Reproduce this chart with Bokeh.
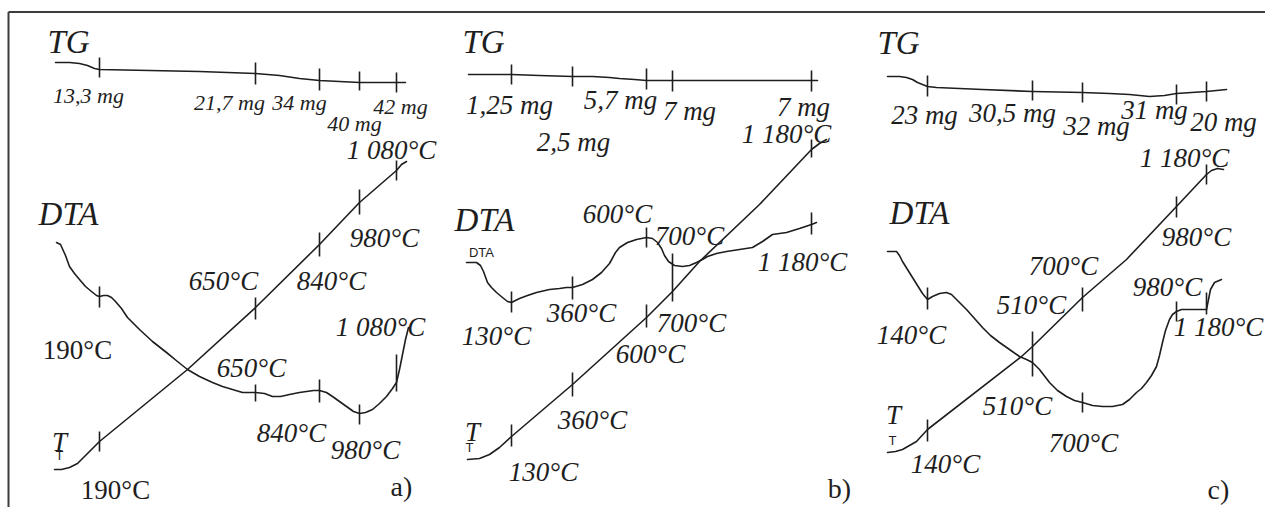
from bokeh.plotting import figure
from bokeh.models import Range1d
from bokeh.core.properties import value
from bokeh.embed import file_html
from bokeh.resources import INLINE

# ---------------- panel a) ----------------
TG_A_X = [56, 70, 80, 88, 95, 100, 150, 200, 256, 280, 300, 320, 340, 360, 380, 406]
TG_A_Y = [63, 63, 64, 66, 69, 70, 71, 72, 74, 76, 79, 81, 82, 83, 83, 83]
TG_A_TICK_X = [100, 256, 320, 360, 397]
TG_A_TICK_Y0 = [58, 63, 69, 72, 73]
TG_A_TICK_Y1 = [78, 85, 91, 91, 93]
TG_A_TXT = ["13,3 mg", "21,7 mg", "34 mg", "40 mg", "42 mg"]
TG_A_TX = [89, 230, 300, 355, 401]
TG_A_TY = [96, 103, 103, 124, 107]

DTA_A_X = [57, 61, 66, 70, 75, 80, 86, 92, 97, 100, 104, 108, 112, 116, 122, 128, 140, 153, 167,
           178, 188, 200, 213, 223, 233, 243, 256, 265, 273, 281, 290, 300, 307, 314, 320, 327,
           333, 340, 347, 354, 360, 366, 373, 380, 387, 393, 397, 400, 403, 406, 409]
DTA_A_Y = [243, 245, 256, 267, 274, 280, 287, 292, 296, 297, 296, 296, 298, 302, 309, 318, 330, 342, 353,
           362, 370, 377, 383, 387, 390, 393, 393, 394, 397, 397, 395, 393, 392, 391, 391, 393,
           397, 402, 407, 412, 414, 413, 410, 404, 397, 389, 383, 370, 355, 340, 328]
DTA_A_TICK_X = [100, 256, 320, 360, 397]
DTA_A_TICK_Y0 = [287, 385, 380, 405, 355]
DTA_A_TICK_Y1 = [308, 402, 403, 425, 392]

T_A_X = [55, 62, 70, 78, 86, 100, 188, 256, 320, 360, 397, 402, 407]
T_A_Y = [470, 470, 468, 464, 456, 442, 370, 308, 245, 203, 171, 165, 162]
T_A_TICK_X = [100, 256, 320, 360, 397]
T_A_TICK_Y0 = [432, 298, 233, 190, 161]
T_A_TICK_Y1 = [452, 320, 257, 215, 181]

# ---------------- panel b) ----------------
TG_B_X = [469, 490, 512, 540, 573, 593, 610, 620, 635, 647, 673, 812, 818]
TG_B_Y = [75, 75, 75, 76, 77, 77, 78, 79, 80, 81, 81, 81, 81]
TG_B_TICK_X = [512, 573, 647, 673, 812]
TG_B_TICK_Y0 = [65, 67, 69, 71, 71]
TG_B_TICK_Y1 = [85, 87, 90, 92, 92]
TG_B_TXT = ["1,25 mg", "5,7 mg", "7 mg", "2,5 mg", "7 mg"]
TG_B_TX = [510, 621, 690, 574, 804]
TG_B_TY = [105, 100, 111, 142, 107]

DTA_B_X = [467, 477, 481, 484, 488, 492, 497, 503, 508, 512, 516, 520, 528, 537, 550, 560, 567, 573,
           583, 593, 602, 610, 616, 620, 628, 637, 647, 653, 658, 662, 665, 669, 675, 683, 690,
           697, 703, 708, 717, 727, 740, 753, 763, 773, 780, 787, 800, 812, 817]
DTA_B_Y = [263, 263, 266, 272, 283, 288, 293, 298, 302, 303, 301, 299, 296, 293, 290, 289, 288, 288,
           285, 280, 273, 264, 253, 248, 243, 240, 238, 239, 243, 249, 256, 262, 266, 267, 266,
           263, 260, 257, 254, 252, 250, 248, 242, 235, 234, 233, 229, 225, 223]
DTA_B_TICK_X = [512, 573, 647, 673, 812]
DTA_B_TICK_Y0 = [292, 277, 228, 254, 213]
DTA_B_TICK_Y1 = [313, 300, 248, 302, 235]

T_B_X = [468, 480, 490, 500, 512, 573, 647, 673, 700, 760, 812, 820, 827]
T_B_Y = [460, 459, 455, 448, 437, 385, 318, 292, 262, 205, 150, 144, 140]
T_B_TICK_X = [512, 573, 647, 812]
T_B_TICK_Y0 = [425, 373, 305, 140]
T_B_TICK_Y1 = [447, 397, 328, 158]

# ---------------- panel c) ----------------
TG_C_X = [888, 900, 907, 913, 918, 923, 928, 937, 960, 983, 1033, 1083, 1110, 1130, 1150, 1165, 1177, 1207, 1227]
TG_C_Y = [77, 77, 78, 80, 83, 85, 87, 88, 89, 90, 92, 93, 94, 95, 97, 96, 94, 92, 90]
TG_C_TICK_X = [928, 1033, 1083, 1177, 1207]
TG_C_TICK_Y0 = [76, 81, 83, 85, 82]
TG_C_TICK_Y1 = [97, 101, 103, 105, 102]
TG_C_TXT = ["23 mg", "30,5 mg", "32 mg", "31 mg", "20 mg"]
TG_C_TX = [925, 1013, 1097, 1155, 1224]
TG_C_TY = [115, 113, 126, 110, 122]

DTA_C_X = [888, 897, 900, 903, 908, 913, 918, 923, 928, 933, 940, 947, 952, 957, 962, 967, 975, 983,
           991, 1000, 1010, 1020, 1027, 1033, 1040, 1050, 1058, 1067, 1075, 1083, 1093, 1103, 1113,
           1123, 1130, 1137, 1142, 1147, 1152, 1157, 1160, 1163, 1166, 1170, 1173, 1177, 1182, 1187,
           1200, 1207, 1209, 1211, 1215, 1222]
DTA_C_Y = [252, 252, 256, 262, 270, 278, 286, 294, 300, 297, 294, 293, 295, 300, 305, 310, 319, 328,
           336, 343, 350, 357, 360, 363, 370, 383, 391, 397, 401, 403, 406, 407, 407,
           405, 400, 393, 389, 383, 376, 367, 356, 343, 331, 320, 315, 312, 310, 310,
           310, 310, 300, 290, 283, 280]
DTA_C_TICK_X = [928, 1033, 1083, 1177, 1207]
DTA_C_TICK_Y0 = [288, 332, 393, 302, 293]
DTA_C_TICK_Y1 = [310, 377, 413, 322, 315]

T_C_X = [888, 896, 903, 910, 917, 928, 1022, 1033, 1083, 1127, 1177, 1207, 1212, 1218, 1224]
T_C_Y = [453, 452, 450, 446, 442, 430, 357, 347, 298, 260, 207, 175, 171, 169, 170]
T_C_TICK_X = [928, 1083, 1177, 1207]
T_C_TICK_Y0 = [420, 288, 197, 165]
T_C_TICK_Y1 = [442, 312, 218, 185]

# ---------------- temperature labels ----------------
TEMP_TXT = ["1 080°C", "980°C", "840°C", "650°C", "650°C", "1 080°C", "840°C", "980°C",
            "1 180°C", "600°C", "700°C", "1 180°C", "130°C", "360°C", "700°C", "600°C", "360°C", "130°C",
            "1 180°C", "980°C", "700°C", "510°C", "140°C", "980°C", "1 180°C", "510°C", "700°C", "140°C"]
TEMP_X = [392, 385, 332, 224, 252, 381, 292, 366,
          787, 618, 690, 803, 497, 582, 692, 651, 593, 544,
          1185, 1197, 1064, 1032, 912, 1168, 1219, 1018, 1084, 946]
TEMP_Y = [150, 238, 281, 281, 368, 327, 433, 450,
          134, 214, 236, 262, 336, 313, 323, 354, 420, 472,
          158, 237, 266, 305, 335, 287, 327, 406, 443, 464]
UPRIGHT_TXT = ["190°C", "190°C"]
UPRIGHT_X = [78, 116]
UPRIGHT_Y = [350, 490]

TITLE_TXT = ["TG", "DTA", "T", "TG", "DTA", "T", "TG", "DTA", "T"]
TITLE_X = [69, 69, 60, 484, 485, 473, 899, 920, 894]
TITLE_Y = [42, 214, 442, 42, 220, 432, 43, 213, 415]
TITLE_SIZE = ["33px", "33px", "27px", "33px", "33px", "27px", "33px", "33px", "27px"]

SMALL_TXT = ["T", "DTA", "T", "T"]
SMALL_X = [60, 482, 470, 893]
SMALL_Y = [456, 253, 448, 441]

PANEL_TXT = ["a)", "b)", "c)"]
PANEL_X = [402, 840, 1219]
PANEL_Y = [487, 489, 490]

INK = "#1e1e1e"
SERIF = value("Liberation Serif")

p = figure(width=1265, height=507, x_range=Range1d(1, 1266), y_range=Range1d(508, 1),
           output_backend="svg", toolbar_location=None, min_border=0,
           x_axis_location=None, y_axis_location=None)
p.grid.visible = False
p.outline_line_color = None
p.background_fill_color = "white"
p.border_fill_color = "white"

# frame (top and left border)
p.line(x=[9, 1266], y=[12.5, 12.5], line_color="#3c3c3c", line_width=2)
p.line(x=[9, 9], y=[12.5, 508], line_color="#3c3c3c", line_width=2)

curves = [(TG_A_X, TG_A_Y), (DTA_A_X, DTA_A_Y), (T_A_X, T_A_Y),
          (TG_B_X, TG_B_Y), (DTA_B_X, DTA_B_Y), (T_B_X, T_B_Y),
          (TG_C_X, TG_C_Y), (DTA_C_X, DTA_C_Y), (T_C_X, T_C_Y)]
for xs, ys in curves:
    p.line(x=xs, y=ys, line_color=INK, line_width=1.6, line_join="round", line_cap="round")

ticks = [(TG_A_TICK_X, TG_A_TICK_Y0, TG_A_TICK_Y1), (DTA_A_TICK_X, DTA_A_TICK_Y0, DTA_A_TICK_Y1),
         (T_A_TICK_X, T_A_TICK_Y0, T_A_TICK_Y1),
         (TG_B_TICK_X, TG_B_TICK_Y0, TG_B_TICK_Y1), (DTA_B_TICK_X, DTA_B_TICK_Y0, DTA_B_TICK_Y1),
         (T_B_TICK_X, T_B_TICK_Y0, T_B_TICK_Y1),
         (TG_C_TICK_X, TG_C_TICK_Y0, TG_C_TICK_Y1), (DTA_C_TICK_X, DTA_C_TICK_Y0, DTA_C_TICK_Y1),
         (T_C_TICK_X, T_C_TICK_Y0, T_C_TICK_Y1)]
for tx, y0, y1 in ticks:
    p.segment(x0=tx, y0=y0, x1=tx, y1=y1, line_color=INK, line_width=1.6)

# mg labels
p.text(x=TG_A_TX, y=TG_A_TY, text=TG_A_TXT, text_font=SERIF, text_font_style="italic",
       text_font_size="22px", text_align="center", text_baseline="middle", text_color=INK)
p.text(x=TG_B_TX + TG_C_TX, y=TG_B_TY + TG_C_TY, text=TG_B_TXT + TG_C_TXT, text_font=SERIF,
       text_font_style="italic", text_font_size="27px", text_align="center",
       text_baseline="middle", text_color=INK)

# temperature labels
p.text(x=TEMP_X, y=TEMP_Y, text=TEMP_TXT, text_font=SERIF, text_font_style="italic",
       text_font_size="27px", text_align="center", text_baseline="middle", text_color=INK)
p.text(x=UPRIGHT_X, y=UPRIGHT_Y, text=UPRIGHT_TXT, text_font=SERIF, text_font_style="normal",
       text_font_size="27px", text_align="center", text_baseline="middle", text_color=INK)

# curve names
p.text(x=TITLE_X, y=TITLE_Y, text=TITLE_TXT, text_font=SERIF, text_font_style="italic",
       text_font_size=TITLE_SIZE, text_align="center", text_baseline="middle", text_color=INK)
p.text(x=SMALL_X, y=SMALL_Y, text=SMALL_TXT, text_font=value("Liberation Sans"),
       text_font_size="13px", text_align="center", text_baseline="middle", text_color=INK)

# panel letters
p.text(x=PANEL_X, y=PANEL_Y, text=PANEL_TXT, text_font=SERIF, text_font_style="normal",
       text_font_size="28px", text_align="center", text_baseline="middle", text_color=INK)

open("out.html", "w").write(file_html(p, INLINE))
